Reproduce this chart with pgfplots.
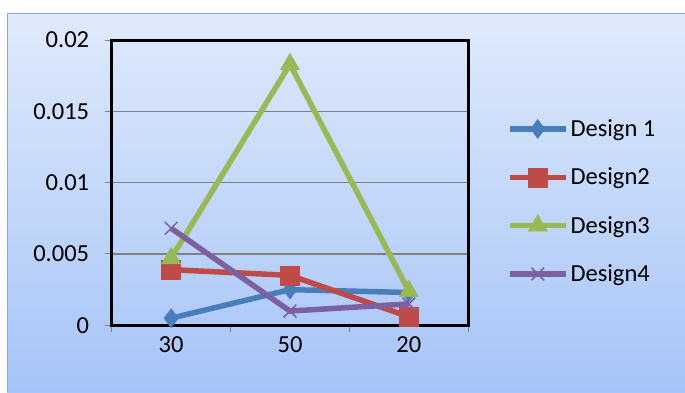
\documentclass[border=0pt]{standalone}
\usepackage{fontspec}
\setmainfont{Carlito}
\usepackage{pgfplots}
\pgfplotsset{compat=1.18}
\usetikzlibrary{backgrounds}
\definecolor{c1}{HTML}{4A7EBB}
\definecolor{c2}{HTML}{BE4B48}
\definecolor{c3}{HTML}{98B954}
\definecolor{c4}{HTML}{7D60A0}
\definecolor{bgtop}{RGB}{223,234,251}
\definecolor{bgbot}{RGB}{166,196,248}
\definecolor{frm}{RGB}{140,165,210}
\begin{document}
\begin{tikzpicture}
\begin{axis}[
  name=ax,
  scale only axis, width=356.6pt, height=285.3pt,
  xmin=-0.5, xmax=2.5, ymin=0, ymax=0.02,
  scaled y ticks=false,
  ytick={0,0.005,0.01,0.015,0.02},
  yticklabels={0,0.005,0.01,0.015,0.02},
  xtick={-0.5,0.5,1.5,2.5}, xticklabels={},
  extra x ticks={0,1,2}, extra x tick labels={30,50,20},
  extra x tick style={major tick length=0pt, tick style={draw=none}, xmajorgrids=false},
  tick align=outside, xtick pos=bottom, ytick pos=left,
  major tick length=7pt,
  tick style={gray, line width=1pt},
  ymajorgrids, grid style={gray, line width=1.2pt},
  axis line style={black, line width=3pt},
  ticklabel style={font=\fontsize{24.5}{28}\selectfont},
  yticklabel style={xshift=-12pt},
  xticklabel style={yshift=-8pt},
  legend style={at={(1.108,0.434)}, anchor=west, draw=none, fill=none,
    font=\fontsize{24.5}{28}\selectfont, row sep=26pt, inner sep=0pt,
    cells={anchor=west}},
  legend image code/.code={\draw[mark repeat=2,mark phase=2] plot coordinates {(0pt,0pt)(28pt,0pt)(56pt,0pt)};},
  every axis plot/.append style={line width=5.5pt},
  clip=false,
]
\addplot[c1, mark=diamond*, mark size=9.5pt, mark options={solid, fill=c1, line width=0.5pt}] coordinates {(0,0.0005) (1,0.0025) (2,0.0023)};
\addlegendentry{Design 1}
\addplot[c2, mark=square*, mark size=9.5pt, mark options={solid, fill=c2, line width=0.5pt}] coordinates {(0,0.0039) (1,0.0035) (2,0.0006)};
\addlegendentry{Design2}
\addplot[c3, mark=triangle*, mark size=11pt, mark options={solid, fill=c3, line width=0.5pt}] coordinates {(0,0.0047) (1,0.0183) (2,0.0024)};
\addlegendentry{Design3}
\addplot[c4, mark=x, mark size=9pt, mark options={solid, line width=1.5pt}] coordinates {(0,0.0068) (1,0.0010) (2,0.0015)};
\addlegendentry{Design4}
\end{axis}
\begin{scope}[on background layer, x=1pt, y=1pt, shift={(ax.south west)}]
\fill[white] (-111.7,-66.7) rectangle (573.3,325.3);
\shade[top color=bgtop,bottom color=bgbot] (-104.7,-66.7) rectangle (573.3,312.3);
\draw[frm, line width=1pt] (-104.2,-66.7) -- (-104.2,311.8) -- (573.3,311.8);
\end{scope}
\pgfresetboundingbox
\path[use as bounding box, x=1pt, y=1pt, shift={(ax.south west)}] (-111.7,-66.7) rectangle (573.3,325.3);
\end{tikzpicture}
\end{document}
